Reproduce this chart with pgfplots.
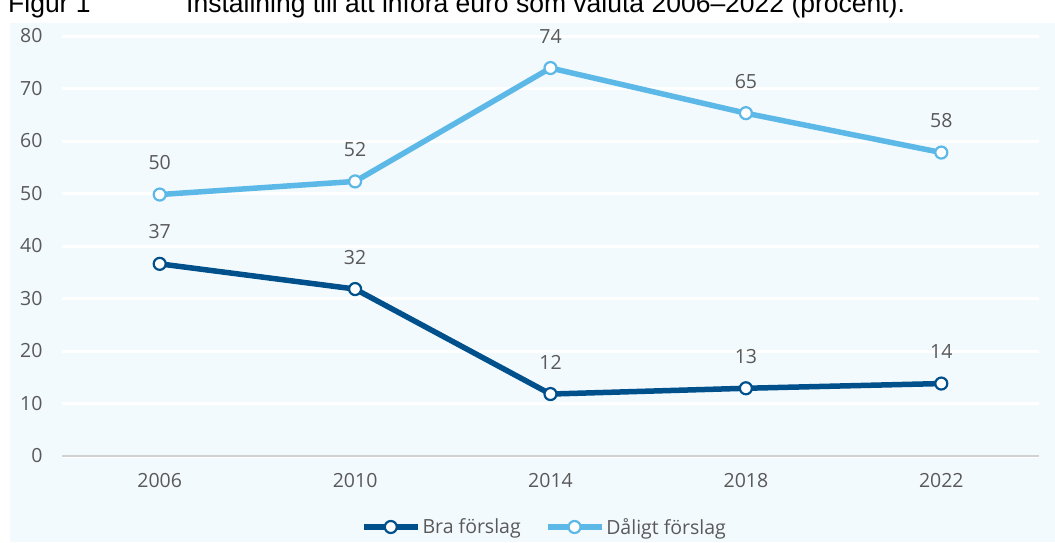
\documentclass[border=0pt]{standalone}
\usepackage{pgfplots}
\pgfplotsset{compat=1.18}
\usepackage{fontspec}
\setmainfont{Open Sans}
\newfontfamily\arial{Liberation Sans}
\definecolor{bg}{HTML}{F3FAFE}
\definecolor{darkb}{HTML}{00508C}
\definecolor{lightb}{HTML}{5CB8E6}
\definecolor{txt}{HTML}{595959}
\begin{document}
\begin{tikzpicture}[x=1pt,y=1pt]
\useasboundingbox (0,0) rectangle (1055,542);
\clip (0,0) rectangle (1055,542);
\fill[bg] (10,0) rectangle (1055,519);
\node[anchor=base west, inner sep=0, font=\arial\fontsize{26.5}{30}\selectfont] at (8,529) {Figur 1};
\node[anchor=base west, inner sep=0, font=\arial\fontsize{26.5}{30}\selectfont] at (186,529) {Inställning till att införa euro som valuta 2006–2022 (procent).};
\begin{axis}[
  at={(62pt,86pt)}, anchor=south west,
  scale only axis, width=977pt, height=420pt,
  xmin=-0.5, xmax=4.5, ymin=0, ymax=80,
  xtick={0,1,2,3,4}, xticklabels={2006,2010,2014,2018,2022},
  ytick={0,10,...,80},
  axis x line*=bottom, axis y line*=left,
  y axis line style={draw=none},
  x axis line style={draw=black!18, line width=1.5pt},
  major tick length=0pt,
  ymajorgrids, grid style={white, line width=3pt},
  tick label style={font=\fontsize{19.5}{23}\selectfont, text=txt},
  /pgf/number format/assume math mode=true,
  yticklabel style={xshift=-16pt},
  xticklabel style={yshift=-14pt},
  clip=false,
  nodes near coords={\pgfmathprintnumber[fixed,precision=0]{\pgfplotspointmeta}},
  point meta=y,
  every node near coord/.append style={font=\fontsize{19.5}{23}\selectfont, text=txt, anchor=center, yshift=32pt},
  legend style={at={(0.5,0)}, anchor=center, xshift=-6pt, yshift=-71pt, draw=none, fill=none,
    legend columns=2, font=\fontsize{19.5}{23}\selectfont, text=txt,
    /tikz/every even column/.append style={column sep=22pt}},
  legend image code/.code={\draw[mark repeat=2,mark phase=2] plot coordinates {(0pt,0pt)(27pt,0pt)(54pt,0pt)};},
]
\addplot[color=darkb, line width=5.5pt, mark=*, mark size=6pt, mark options={fill=white, draw=darkb, line width=2.2pt}]
  coordinates {(0,36.6) (1,31.8) (2,11.8) (3,12.9) (4,13.8)};
\addlegendentry{Bra förslag}
\addplot[color=lightb, line width=5.5pt, mark=*, mark size=6pt, mark options={fill=white, draw=lightb, line width=2.2pt}]
  coordinates {(0,49.8) (1,52.3) (2,73.9) (3,65.3) (4,57.8)};
\addlegendentry{Dåligt förslag}
\end{axis}
\end{tikzpicture}
\end{document}
